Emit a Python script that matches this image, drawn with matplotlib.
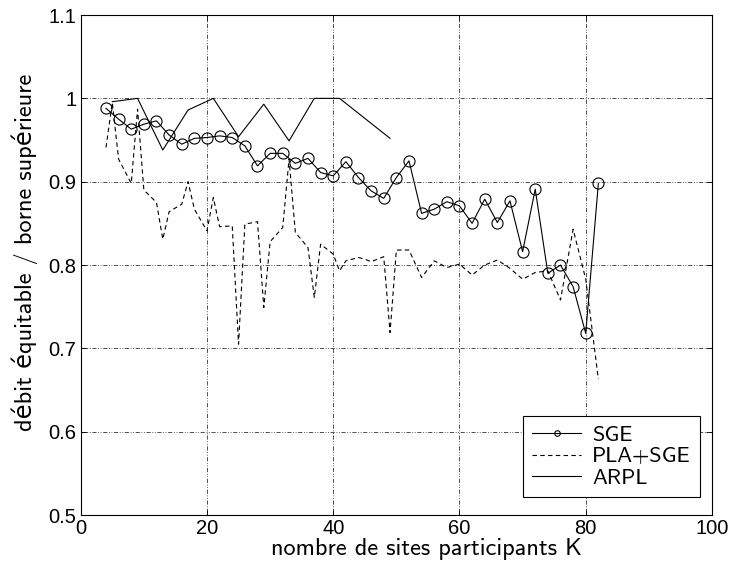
import matplotlib
matplotlib.use("Agg")
import matplotlib.pyplot as plt

# SGE (circles), K even from 4 to 82
k_sge = [4, 6, 8, 10, 12, 14, 16, 18, 20, 22, 24, 26, 28, 30, 32, 34, 36, 38, 40,
         42, 44, 46, 48, 50, 52, 54, 56, 58, 60, 62, 64, 66, 68, 70, 72, 74, 76, 78, 80, 82]
sge = [0.988, 0.975, 0.963, 0.969, 0.973, 0.956, 0.945, 0.952, 0.953, 0.955, 0.953,
       0.943, 0.919, 0.934, 0.934, 0.922, 0.928, 0.911, 0.907, 0.924, 0.905, 0.889,
       0.880, 0.905, 0.925, 0.862, 0.867, 0.876, 0.871, 0.850, 0.879, 0.851, 0.877,
       0.816, 0.891, 0.790, 0.800, 0.774, 0.718, 0.898]

# PLA+SGE (dashed)
k_pla = [4, 5, 6, 8, 9, 10, 12, 13, 14, 16, 17, 18, 20, 21, 22, 24, 25, 26, 28, 29,
         30, 32, 33, 34, 36, 37, 38, 40, 41, 42, 44, 45, 46, 48, 49, 50, 52, 54, 56,
         58, 60, 62, 64, 66, 68, 70, 72, 74, 76, 78, 80, 82]
pla = [0.941, 0.995, 0.927, 0.898, 0.987, 0.890, 0.875, 0.831, 0.864, 0.873, 0.900,
       0.867, 0.841, 0.881, 0.846, 0.847, 0.705, 0.849, 0.852, 0.749, 0.828, 0.845,
       0.927, 0.839, 0.821, 0.761, 0.825, 0.813, 0.793, 0.805, 0.809, 0.807, 0.804,
       0.810, 0.719, 0.818, 0.818, 0.785, 0.805, 0.797, 0.801, 0.788, 0.800, 0.806,
       0.796, 0.783, 0.791, 0.793, 0.758, 0.843, 0.783, 0.663]

# ARPL (solid)
k_arpl = [5, 9, 13, 17, 21, 25, 29, 33, 37, 41, 45, 49]
arpl = [0.996, 1.0, 0.938, 0.986, 1.0, 0.954, 0.993, 0.949, 1.0, 1.0, 0.976, 0.952]

xticks = [0, 20, 40, 60, 80, 100]
yticks = [0.5, 0.6, 0.7, 0.8, 0.9, 1.0, 1.1]
ytick_labels = ["0.5", "0.6", "0.7", "0.8", "0.9", "1", "1.1"]

label_font = ["cmss10", "DejaVu Sans"]

fig = plt.figure(figsize=(7.34, 5.67), dpi=100)
ax = fig.add_axes([0.110, 0.0917, 0.860, 0.8818])

ax.plot(k_sge, sge, "-o", color="black", lw=0.8, markersize=8,
        markerfacecolor="none", markeredgewidth=0.8, label="SGE")
ax.plot(k_pla, pla, "--", color="black", lw=0.8, dashes=(4, 3), label="PLA+SGE")
ax.plot(k_arpl, arpl, "-", color="black", lw=0.8, label="ARPL")

ax.set_xlim(0, 100)
ax.set_ylim(0.5, 1.1)
ax.set_xticks(xticks)
ax.set_yticks(yticks)
ax.set_yticklabels(ytick_labels)
for lab in ax.get_xticklabels() + ax.get_yticklabels():
    lab.set_family("Liberation Sans")
    lab.set_fontsize(14.5)

ax.tick_params(direction="in", top=True, right=True, length=4, width=0.6, pad=3)
ax.grid(True, color="#333333", lw=0.6, linestyle=(0, (5, 2, 1, 2, 1, 2)))
for s in ax.spines.values():
    s.set_linewidth(0.8)

ax.set_xlabel("nombre de sites participants K", family=label_font, fontsize=17.5, labelpad=0)
ax.xaxis.set_label_coords(0.547, -0.045)
ax.set_ylabel("débit équitable / borne supérieure", family=label_font, fontsize=17.5, labelpad=5)
ax.yaxis.set_label_coords(-0.068, 0.526)

leg = ax.legend(loc="lower right", bbox_to_anchor=(0.981, 0.036), borderaxespad=0,
                fancybox=False, edgecolor="black", framealpha=1,
                markerscale=0.5, handlelength=2.2, handletextpad=0.5,
                prop={"family": label_font, "size": 16}, labelspacing=0.1)
leg.get_frame().set_linewidth(0.8)

plt.savefig("out.png", dpi=100)
